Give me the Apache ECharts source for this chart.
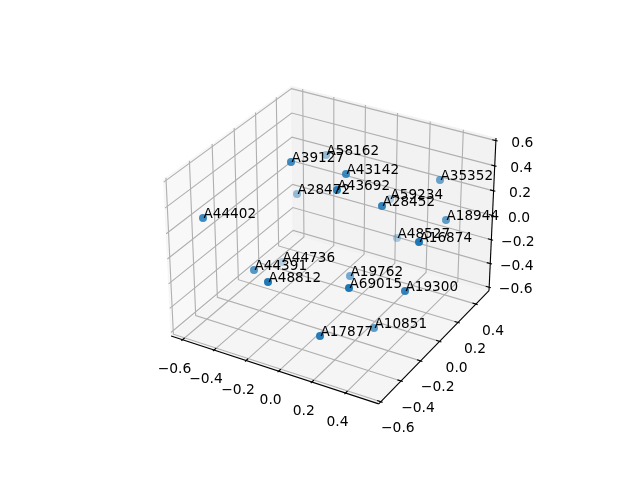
<!DOCTYPE html>
<html><head><meta charset="utf-8">
<style>html,body{margin:0;padding:0;background:#fff}#c{width:640px;height:480px}</style>
<script src="https://cdn.jsdelivr.net/npm/echarts@6/dist/echarts.min.js"></script>
</head><body><div id="c"></div>
<script>
// Point labels and their positions as read on the projected picture plane
const names = ['A44402','A39127','A58162','A43142','A28472','A43692','A35352','A59234','A28452','A18944','A48527','A16874','A44736','A44391','A48812','A19762','A69015','A19300','A10851','A17877'];
const planeX = [203,291,326,346,297,337,440,390,382,446,397,419,282,254,268,350,349,405,374,320];
const planeY = [218,162,155,174,194,190,180,199,206,220,238,242,262,270,282,276,288,291,328,336];
const shade  = [0.85,0.85,0.45,0.85,0.45,0.95,0.65,0.3,0.9,0.7,0.35,1,0.3,0.75,1,0.6,1,0.9,0.7,0.95];
// Axis ticks and limits
const xTicks = [-0.6,-0.4,-0.2,0,0.2,0.4];
const yTicks = [-0.6,-0.4,-0.2,0,0.2,0.4];
const zTicks = [-0.6,-0.4,-0.2,0,0.2,0.4,0.6];
const xLim = [-0.673,0.594];
const yLim = [-0.62,0.55];
const zLim = [-0.63,0.62];

// mplot3d style view: elev 30, azim -60, dist 10
const box=[1.1905,1.1905,0.8929], dist=10, el=30*Math.PI/180, az=-60*Math.PI/180;
const w=[Math.cos(el)*Math.cos(az),Math.cos(el)*Math.sin(az),Math.sin(el)];
const un=Math.hypot(w[1],w[0]);
const u=[-w[1]/un,w[0]/un,0];
const v=[w[1]*u[2]-w[2]*u[1],w[2]*u[0]-w[0]*u[2],w[0]*u[1]-w[1]*u[0]];
const dot=(a,b)=>a[0]*b[0]+a[1]*b[1]+a[2]*b[2];
function proj(x,y,z){
  const p=[(x-xLim[0])/(xLim[1]-xLim[0])*box[0]-box[0]/2,(y-yLim[0])/(yLim[1]-yLim[0])*box[1]-box[1]/2,(z-zLim[0])/(zLim[1]-zLim[0])*box[2]-box[2]/2];
  const d=dist-dot(w,p), X=dot(u,p)/d, Y=dot(v,p)/d;
  return [143.2+(X+0.095)/0.185*369.6, 427.2-(Y+0.095)/0.185*369.6];
}
const [x0,x1]=xLim,[y0,y1]=yLim,[z0,z1]=zLim;
const panes=[
 {c:'rgba(242,242,242,0.5)',p:[[x0,y0,z0],[x0,y1,z0],[x0,y1,z1],[x0,y0,z1]]},
 {c:'rgba(230,230,230,0.5)',p:[[x0,y1,z0],[x1,y1,z0],[x1,y1,z1],[x0,y1,z1]]},
 {c:'rgba(236,236,236,0.5)',p:[[x0,y0,z0],[x1,y0,z0],[x1,y1,z0],[x0,y1,z0]]}
].map(o=>({c:o.c,p:o.p.map(q=>proj(...q))}));
const grid=[];
xTicks.forEach(t=>grid.push([[t,y0,z0],[t,y1,z0],[t,y1,z1]]));
yTicks.forEach(t=>grid.push([[x1,t,z0],[x0,t,z0],[x0,t,z1]]));
zTicks.forEach(t=>grid.push([[x0,y0,t],[x0,y1,t],[x1,y1,t]]));
const gridLines=grid.map(l=>l.map(q=>proj(...q)));
const axisLines=[[[x0,y0,z0],[x1,y0,z0]],[[x1,y0,z0],[x1,y1,z0]],[[x1,y1,z0],[x1,y1,z1]]].map(l=>l.map(q=>proj(...q)));
const fmt=t=>(t<0?'\u2212':'')+Math.abs(t).toFixed(1);
const ticks=[],tickTexts=[];
function tick(a,inn,out,ofs,t){
  ticks.push([proj(...inn),proj(...out)]);
  const c=proj(...a);
  tickTexts.push({x:c[0]+ofs[0],y:c[1]+ofs[1],s:fmt(t)});
}
const ry=y1-y0, rx=x1-x0;
xTicks.forEach(t=>tick([t,y0,z0],[t,y0+ry/60,z0],[t,y0-ry/120,z0],[-8,29.5],t));
yTicks.forEach(t=>tick([x1,t,z0],[x1-rx/60,t,z0],[x1+rx/120,t,z0],[17,27],t));
zTicks.forEach(t=>tick([x1,y1,t],[x1-rx/60,y1,t],[x1+rx/120,y1,t],[26.5,2.5],t));

const font='13.89px "DejaVu Sans"';
const nameFont='13.6px "DejaVu Sans"';
const polyItem=(pts,style,api)=>({type:'polygon',shape:{points:pts.map(p=>api.coord(p))},style});
const lineItem=(pts,stroke,lw,api)=>({type:'polyline',shape:{points:pts.map(p=>api.coord(p))},style:{stroke,lineWidth:lw,fill:null}});
const chart=echarts.init(document.getElementById('c'),null,{renderer:'canvas'});
const cust=(data,renderItem,z)=>({type:'custom',silent:true,z,coordinateSystem:'cartesian2d',data:data.map((_,i)=>[0,0,i]),encode:{x:0,y:1},clip:false,animation:false,renderItem});
chart.setOption({
  animation:false,
  grid:{left:0,right:0,top:0,bottom:0},
  xAxis:{type:'value',min:0,max:640,show:false},
  yAxis:{type:'value',min:0,max:480,inverse:true,show:false},
  series:[
    cust(panes,(p,api)=>{const o=panes[api.value(2)];return polyItem(o.p,{fill:o.c,stroke:'rgba(242,242,242,0.5)',lineWidth:1},api)},1),
    cust(gridLines,(p,api)=>lineItem(gridLines[api.value(2)],'#b0b0b0',1.11,api),2),
    cust(axisLines,(p,api)=>lineItem(axisLines[api.value(2)],'#000',1.11,api),3),
    cust(ticks,(p,api)=>lineItem(ticks[api.value(2)],'#000',1.11,api),3),
    cust(tickTexts,(p,api)=>{const t=tickTexts[api.value(2)],c=api.coord([t.x,t.y]);return {type:'text',x:c[0],y:c[1],style:{text:t.s,font,fill:'#000',align:'center',verticalAlign:'middle'}}},4),
    {type:'scatter',z:5,silent:true,symbol:'circle',symbolSize:8,animation:false,
     data:names.map((n,i)=>({value:[planeX[i],planeY[i]],itemStyle:{color:'#1f77b4',opacity:shade[i]}}))},
    cust(names,(p,api)=>{const i=api.value(2),c=api.coord([planeX[i],planeY[i]]);return {type:'text',x:c[0]+0.5,y:c[1]-3.5,style:{text:names[i],font:nameFont,fill:'#000',align:'left',verticalAlign:'middle'}}},6)
  ]
});
</script></body></html>
